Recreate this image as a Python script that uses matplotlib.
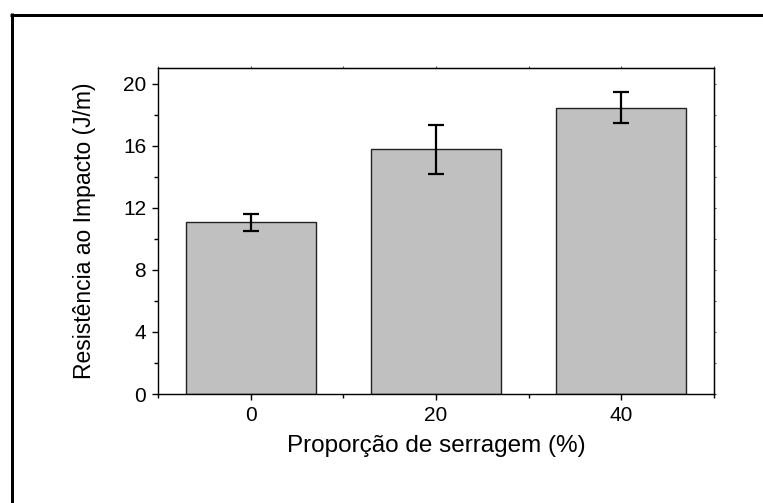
import matplotlib
matplotlib.use("Agg")
import matplotlib.pyplot as plt
from matplotlib.lines import Line2D
from matplotlib.ticker import MultipleLocator

categories = [0, 20, 40]
values = [11.05, 15.76, 18.45]
errors = [0.52, 1.59, 0.99]
xlabel = "Proporção de serragem (%)"
ylabel = "Resistência ao Impacto (J/m)"

plt.rcParams['font.family'] = ['Liberation Sans', 'DejaVu Sans']

W, H = 763, 503
fig = plt.figure(figsize=(W / 100, H / 100), dpi=100)
ax = fig.add_axes([158 / W, 1 - 394 / H, (714 - 158) / W, (394 - 68) / H])

ax.bar(categories, values, width=14, color='#c0c0c0', edgecolor='#222222',
       linewidth=1.0, zorder=2)
ax.errorbar(categories, values, yerr=errors, fmt='none', ecolor='black',
            elinewidth=1.6, capsize=6, capthick=1.6, zorder=3)

ax.set_xlim(-10, 50)
ax.set_ylim(0, 21)
ax.set_xticks(categories)
ax.set_yticks([0, 4, 8, 12, 16, 20])
ax.xaxis.set_minor_locator(MultipleLocator(10))
ax.yaxis.set_minor_locator(MultipleLocator(2))

ax.tick_params(which='both', direction='out', width=1.0, color='black')
ax.tick_params(which='major', length=4.5, labelsize=15, pad=4)
ax.tick_params(which='minor', length=3)
for s in ax.spines.values():
    s.set_linewidth(1.0)
    s.set_color('black')

# tiny ticks on top and right spines
sx = ax.secondary_xaxis('top')
sx.set_xticks(categories + [-10, 10, 30, 50])
sx.tick_params(direction='out', length=1.5, width=0.8, colors='#555555',
               labeltop=False)
sx.set_xticklabels([])
sy = ax.secondary_yaxis('right')
sy.set_yticks(list(range(0, 21, 2)))
sy.tick_params(direction='out', length=1.5, width=0.8, colors='#555555')
sy.set_yticklabels([])

ax.set_xlabel(xlabel, fontsize=17.5, labelpad=7)
ax.set_ylabel(ylabel, fontsize=16.5)
ax.yaxis.set_label_coords((96 - 158) / (714 - 158), 0.5)

# outer frame (partially cropped at right and bottom)
lw = 3 * 72 / 100
fig.add_artist(Line2D([10 / W, 1.0], [1 - 14.5 / H, 1 - 14.5 / H],
                      transform=fig.transFigure, color='black', lw=lw,
                      solid_capstyle='butt'))
fig.add_artist(Line2D([11.5 / W, 11.5 / W], [0.0, 1 - 13 / H],
                      transform=fig.transFigure, color='black', lw=lw,
                      solid_capstyle='butt'))

fig.savefig("out.png", dpi=100)
